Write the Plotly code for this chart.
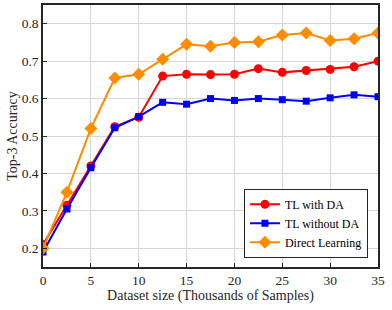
import plotly.graph_objects as go

x = [0, 2.5, 5, 7.5, 10, 12.5, 15, 17.5, 20, 22.5, 25, 27.5, 30, 32.5, 35]
tl_da = [0.21, 0.315, 0.42, 0.525, 0.55, 0.66, 0.665, 0.664, 0.665, 0.68, 0.67, 0.675, 0.678, 0.685, 0.70]
tl_nda = [0.19, 0.305, 0.415, 0.522, 0.552, 0.59, 0.585, 0.60, 0.595, 0.60, 0.597, 0.593, 0.602, 0.61, 0.605]
direct = [0.20, 0.35, 0.52, 0.655, 0.665, 0.705, 0.745, 0.74, 0.75, 0.752, 0.77, 0.775, 0.755, 0.76, 0.775]

font = "Liberation Serif, Times New Roman, serif"
fig = go.Figure()
fig.add_trace(go.Scatter(x=x, y=tl_da, name="TL with DA", mode="lines+markers",
                         line=dict(color="#ff0000", width=2),
                         marker=dict(symbol="circle", size=9, color="#ff0000")))
fig.add_trace(go.Scatter(x=x, y=tl_nda, name="TL without DA", mode="lines+markers",
                         line=dict(color="#0000ff", width=2),
                         marker=dict(symbol="square", size=7, color="#0000ff")))
fig.add_trace(go.Scatter(x=x, y=direct, name="Direct Learning", mode="lines+markers",
                         line=dict(color="#ff8c00", width=2),
                         marker=dict(symbol="diamond", size=10, color="#ff8c00")))

axis_common = dict(showline=True, linecolor="#262626", linewidth=1.5, mirror=True,
                   ticks="inside", ticklen=4, tickcolor="#262626",
                   showgrid=True, gridcolor="#d6d6d6", gridwidth=1, zeroline=False,
                   tickfont=dict(family=font, size=13.5, color="#262626"))
fig.update_xaxes(range=[0, 35], dtick=5, tick0=0,
                 title=dict(text="Dataset size (Thousands of Samples)", font=dict(family=font, size=14, color="#262626"), standoff=3),
                 **axis_common)
fig.update_yaxes(range=[0.15, 0.85], dtick=0.1, tick0=0.2, tickformat=".1f",
                 title=dict(text="Top-3 Accuracy", font=dict(family=font, size=14, color="#262626"), standoff=1),
                 **axis_common)
fig.update_layout(width=392, height=310, margin=dict(l=43, r=14, t=5, b=43, autoexpand=False),
                  plot_bgcolor="white", paper_bgcolor="white",
                  font=dict(family=font, size=13, color="#262626"),
                  legend=dict(x=0.97, y=0.035, xanchor="right", yanchor="bottom",
                              bgcolor="white", bordercolor="#262626", borderwidth=1,
                              font=dict(family=font, size=12, color="black"),
                              tracegroupgap=0, itemwidth=30),
                  showlegend=True)
fig.write_html("out.html", config={"displayModeBar": False},
               post_script="document.body.style.margin='0';")
